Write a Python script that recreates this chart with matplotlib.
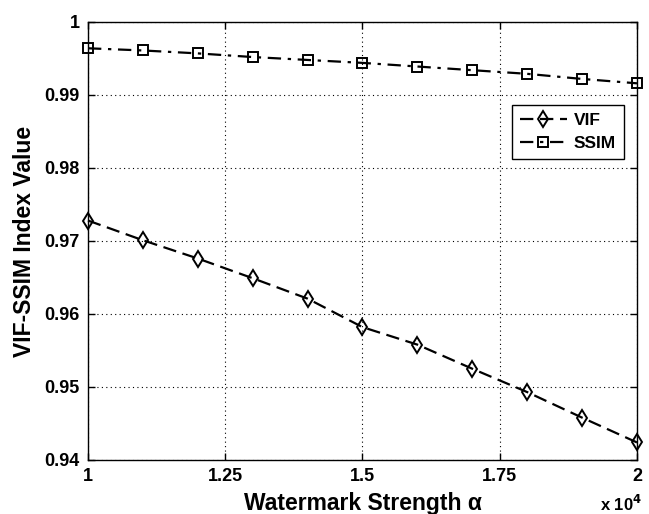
import matplotlib
matplotlib.use("Agg")
import matplotlib.pyplot as plt
from matplotlib.ticker import FuncFormatter

# data
strength = [10000, 11000, 12000, 13000, 14000, 15000, 16000, 17000, 18000, 19000, 20000]
vif = [0.9728, 0.9701, 0.9676, 0.9649, 0.9621, 0.9582, 0.9558, 0.9525, 0.9493, 0.9458, 0.9424]
ssim = [0.9964, 0.9961, 0.9957, 0.9952, 0.9948, 0.9944, 0.9939, 0.9934, 0.9929, 0.9922, 0.9916]

x_ticks = [1, 1.25, 1.5, 1.75, 2]
y_ticks = [0.94, 0.95, 0.96, 0.97, 0.98, 0.99, 1.0]

plt.rcParams['font.family'] = ['Liberation Sans', 'DejaVu Sans']
plt.rcParams['font.weight'] = 'bold'

fig = plt.figure(figsize=(6.49, 5.14), dpi=100)
ax = fig.add_axes([0.1356, 0.1051, 0.8459, 0.8521])

x = [s / 1e4 for s in strength]

ax.plot(x, vif, color='black', linestyle='--', linewidth=1.6, dashes=(6, 3),
        marker='d', markersize=8, markerfacecolor='none', markeredgewidth=1.4,
        label='VIF', clip_on=False, zorder=3)
ax.plot(x, ssim, color='black', linestyle='-.', linewidth=1.6, dashes=(6, 3, 1.5, 3),
        marker='s', markersize=7, markerfacecolor='none', markeredgewidth=1.4,
        label='SSIM', clip_on=False, zorder=3)

ax.set_xlim(1, 2)
ax.set_ylim(0.94, 1.0)
ax.set_xticks(x_ticks)
ax.set_yticks(y_ticks)
ax.xaxis.set_major_formatter(FuncFormatter(lambda v, p: '%g' % v))
ax.yaxis.set_major_formatter(FuncFormatter(lambda v, p: '%g' % round(v, 2)))

ax.grid(True, color='black', linestyle=(0, (1, 3)), linewidth=0.8)
ax.tick_params(direction='in', top=True, right=True, length=5, width=1,
               labelsize=13, pad=6)
for lab in ax.get_xticklabels() + ax.get_yticklabels():
    lab.set_fontweight('bold')
for sp in ax.spines.values():
    sp.set_linewidth(1.0)

ax.set_xlabel('Watermark Strength α', fontsize=16.5, fontweight='bold', labelpad=5)
ax.set_ylabel('VIF-SSIM Index Value', fontsize=16.5, fontweight='bold', labelpad=6)

ax.text(1.009, -0.117, 'x 10$^{4}$', transform=ax.transAxes, ha='right', va='baseline',
        fontsize=12, fontweight='bold')

leg = ax.legend(loc='upper right', bbox_to_anchor=(0.976, 0.811), borderaxespad=0,
                fontsize=12.5, fancybox=False, framealpha=1, edgecolor='black',
                handlelength=2.7, borderpad=0.45, labelspacing=0.45, handletextpad=0.4)
leg.get_frame().set_linewidth(1.0)
for t in leg.get_texts():
    t.set_fontweight('bold')

fig.savefig('out.png', dpi=100)
